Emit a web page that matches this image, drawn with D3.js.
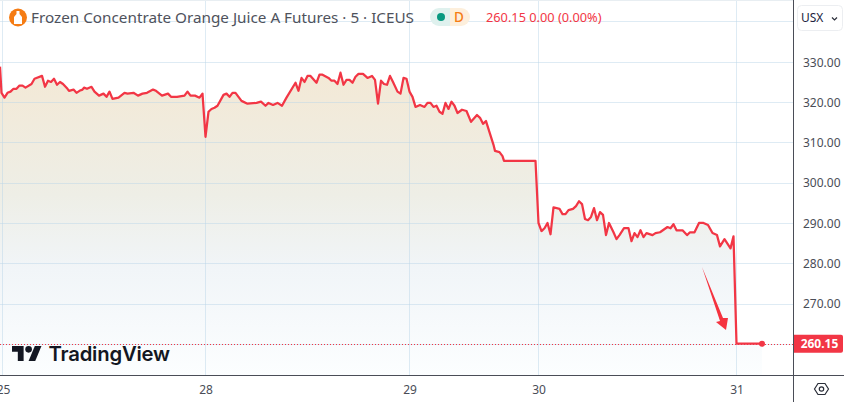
<!DOCTYPE html>
<html>
<head>
<meta charset="utf-8">
<script src="https://cdn.jsdelivr.net/npm/d3@7"></script>
<style>
    html, body { margin: 0; padding: 0; background: #fff; overflow: hidden; }
    svg { display: block; font-family: "Noto Sans", sans-serif; }
</style>
</head>
<body>
<svg id="chart" width="844" height="402"></svg>
<script>
// 5 minute bars, counted from the left edge of the picture
const bars = [
    0,1,3,5,7,9,11,13,15,17,21,23,28,30,32,34,36,38,40,42,45,46,49,51,53,55,56,58,61,63,66,69,71,73,75,79,83,85,89,92,95,98,102,104,108,112,114,118,123,125,127,130,133,135,
    137,139,141,143,145,149,151,153,155,157,161,165,171,174,177,179,182,185,
    188,191,197,199,201,203,205,207,211,213,215,219,221,223,225,227,229,231,233,235,237,239,242,245,248,250,252,254,256,258,260,262,265,267,269,271,
    273,275,277,280,283,285,287,289,291,293,295,297,299,301,303,305,308,311,314,318,320,322,324,329,330,333,335,336,357,
    359,361,363,365,367,369,373,375,377,379,382,384,386,388,390,392,394,396,398,400,402,404,406,409,411,413,416,419,421,423,425,427,429,431,435,437,440,445,447,449,451,455,458,460,463,466,469,472,475,478,480,483,487,489,
    491,508
]
const prices = [
    328.9,322.4,321.2,322.4,322.7,323.4,323.4,324.2,324.2,323.7,324.6,325.9,326.6,323.9,325.4,325.1,325.9,324.4,325.1,324.6,323.4,322.9,323.2,322.4,322.9,323.2,323.7,323.4,323.9,322.7,321.7,322.2,321.4,322.7,320.9,321.2,322.4,322.2,322.4,321.7,322.2,322.4,323.2,322.9,321.7,322.2,321.4,321.4,321.7,322.7,321.7,321.7,321.2,322.2,
    311.5,317.7,318.4,318.7,319.2,321.9,322.2,321.4,322.4,322.4,320.4,319.7,319.9,320.2,319.2,319.9,319.4,319.9,
    319.2,321.2,324.9,322.9,326.1,325.1,326.6,326.6,324.9,326.9,326.9,326.1,325.4,325.4,324.6,327.4,324.4,325.6,325.6,324.9,326.4,327.1,327.1,326.1,326.6,325.6,319.7,325.4,324.6,324.4,326.6,325.1,322.7,322.2,326.1,325.9,
    322.7,321.4,318.9,319.4,318.9,319.9,319.9,318.9,319.2,317.7,317.2,319.9,318.4,320.2,319.2,317.4,318.2,317.9,315.2,316.9,316.2,314.7,315.4,309.5,308.0,307.7,306.7,305.5,305.5,
    290.1,288.1,288.8,290.1,287.3,294.0,293.6,292.3,292.3,293.3,293.6,294.3,295.5,294.8,291.1,290.8,291.6,293.8,290.8,292.8,292.1,287.1,290.1,287.8,286.1,287.1,288.8,288.8,285.6,287.6,286.6,288.3,286.6,287.6,287.1,287.6,287.8,289.1,288.8,289.8,288.3,288.3,287.1,287.8,287.8,290.1,290.1,289.6,287.6,287.1,284.3,286.1,283.8,286.8,
    260.15,260.15
]
const priceTicks = [340, 330, 320, 310, 300, 290, 280, 270, 260]
const priceLabels = [330, 320, 310, 300, 290, 280, 270]
const dayBars = [2, 137, 273, 359, 491]
const dayLabels = ["25", "28", "29", "30", "31"]
const lastPrice = 260.15

const plotW = 793, plotH = 375
const red = "#f23645", axisInk = "#4a4d57", gridInk = "rgba(186,214,232,0.48)"

const x = d3.scaleLinear().domain([0, 508]).range([0, 762])
const y = d3.scaleLinear().domain([330, 270]).range([62.2, 304])

const svg = d3.select("#chart")

const defs = svg.append("defs")
const grad = defs.append("linearGradient")
    .attr("id", "areaFill")
    .attr("gradientUnits", "userSpaceOnUse")
    .attr("x1", 0).attr("x2", 0).attr("y1", 74).attr("y2", plotH)
grad.append("stop").attr("offset", 0).attr("stop-color", "#f3e9d6")
grad.append("stop").attr("offset", 0.4).attr("stop-color", "#eeeee6")
grad.append("stop").attr("offset", 0.65).attr("stop-color", "#f1f5f8")
grad.append("stop").attr("offset", 1).attr("stop-color", "#fcfeff")
defs.append("clipPath").attr("id", "plotClip")
    .append("rect").attr("width", plotW).attr("height", plotH)

// area first so the grid shows through it
const series = d3.zip(bars, prices)
const plot = svg.append("g").attr("clip-path", "url(#plotClip)")
plot.append("path")
    .datum(series)
    .attr("fill", "url(#areaFill)")
    .attr("d", d3.area().x(d => x(d[0])).y0(plotH).y1(d => y(d[1])))

// grid
const grid = plot.append("g").attr("stroke", gridInk).attr("stroke-width", 1)
grid.selectAll("line.h").data(priceTicks).join("line").attr("class", "h")
    .attr("x1", 0).attr("x2", plotW)
    .attr("y1", d => Math.floor(y(d)) + 0.5).attr("y2", d => Math.floor(y(d)) + 0.5)
grid.selectAll("line.v").data(dayBars).join("line").attr("class", "v")
    .attr("x1", d => Math.round(x(d)) - 0.5).attr("x2", d => Math.round(x(d)) - 0.5)
    .attr("y1", 0).attr("y2", plotH)
svg.append("line").attr("x1", 0).attr("x2", plotW).attr("y1", 0.5).attr("y2", 0.5)
    .attr("stroke", "#e8eef2")

// price line, dotted right across the plot
plot.append("line")
    .attr("x1", 0).attr("x2", plotW)
    .attr("y1", Math.round(y(lastPrice)) + 0.5).attr("y2", Math.round(y(lastPrice)) + 0.5)
    .attr("stroke", red).attr("stroke-dasharray", "1 2")
    .attr("shape-rendering", "crispEdges")

plot.append("path")
    .datum(series)
    .attr("fill", "none")
    .attr("stroke", red)
    .attr("stroke-width", 2.25)
    .attr("stroke-linejoin", "round")
    .attr("d", d3.line().x(d => x(d[0])).y(d => y(d[1])))

plot.append("circle")
    .attr("cx", x(bars[bars.length - 1])).attr("cy", y(lastPrice))
    .attr("r", 3).attr("fill", red)

// hand drawn arrow
svg.append("path")
    .attr("d", "M702,267 L723,318 L728,318 L726,330 L716,322 L720,321 Z")
    .attr("fill", "#f5333f")

// axes
const yAxis = d3.axisRight(y).tickValues(priceLabels).tickSize(0).tickPadding(10)
    .tickFormat(d3.format(".2f"))
const yG = svg.append("g").attr("transform", `translate(${plotW},0)`).call(yAxis)
yG.select(".domain").remove()
yG.selectAll("text").attr("fill", axisInk).attr("font-size", 12).attr("font-family", "'Noto Sans', sans-serif")

const xAxis = d3.axisBottom(x).tickValues(dayBars).tickSize(0).tickPadding(10)
    .tickFormat((d, i) => dayLabels[i])
const xG = svg.append("g").attr("transform", `translate(0,${plotH})`).call(xAxis)
xG.select(".domain").remove()
xG.selectAll("text").attr("fill", axisInk).attr("font-size", 12).attr("font-family", "'Noto Sans', sans-serif")

svg.append("line").attr("x1", plotW + 0.5).attr("x2", plotW + 0.5).attr("y1", 0).attr("y2", 402)
    .attr("stroke", axisInk)
svg.append("line").attr("x1", 0).attr("x2", 844).attr("y1", plotH + 0.5).attr("y2", plotH + 0.5)
    .attr("stroke", axisInk)

// last price tag
const tagY = y(lastPrice)
svg.append("path")
    .attr("d", `M${plotW + 1},${tagY - 9} H841 a2,2 0 0 1 2,2 V${tagY + 7} a2,2 0 0 1 -2,2 H${plotW + 1} Z`)
    .attr("fill", red)
svg.append("text")
    .attr("x", 819.5).attr("y", tagY + 4.5).attr("text-anchor", "middle")
    .attr("fill", "#fff").attr("font-size", 12).attr("font-weight", 700)
    .text(d3.format(".2f")(lastPrice))

// USX button
svg.append("rect").attr("x", 797.5).attr("y", 5.5).attr("width", 45).attr("height", 25).attr("rx", 4)
    .attr("fill", "#fff").attr("stroke", "#eceef1")
svg.append("text").attr("x", 801).attr("y", 22).attr("fill", "#1c2340").attr("font-size", 12).text("USX")
svg.append("path").attr("d", "M832,17.5 l2.5,2.5 l2.5,-2.5").attr("fill", "none").attr("stroke", "#2a2e39").attr("stroke-width", 1.2)

// settings hexagon
svg.append("path").attr("d", "M814.5,389 L818,383.5 H825 L828.5,389 L825,394.5 H818 Z")
    .attr("fill", "none").attr("stroke", "#2a2e39").attr("stroke-width", 1.2)
svg.append("circle").attr("cx", 821.5).attr("cy", 389).attr("r", 2.2)
    .attr("fill", "none").attr("stroke", "#2a2e39").attr("stroke-width", 1.2)

// header
const head = svg.append("g")
head.append("circle").attr("cx", 18).attr("cy", 17.5).attr("r", 9).attr("fill", "#f57c14")
head.append("path").attr("d", "M16.5,11 H19.5 V14 L22,17 V24 H14 V17 L16.5,14 Z").attr("fill", "#fff")
head.append("text").attr("x", 31).attr("y", 23).attr("fill", "#4f525c").attr("font-size", 15)
    .attr("textLength", 383).attr("lengthAdjust", "spacingAndGlyphs")
    .text("Frozen Concentrate Orange Juice A Futures · 5 · ICEUS")

head.append("path").attr("d", "M450,8 H439 a9,9 0 0 0 0,18 H450 Z").attr("fill", "#dff1ee")
head.append("path").attr("d", "M450,8 H461 a9,9 0 0 1 0,18 H450 Z").attr("fill", "#fdefdc")
head.append("circle").attr("cx", 441).attr("cy", 17).attr("r", 4).attr("fill", "#089981")
head.append("text").attr("x", 459).attr("y", 22).attr("text-anchor", "middle").attr("fill", "#f57c14")
    .attr("font-size", 13.5).attr("font-weight", 500).text("D")
head.append("text").attr("x", 486).attr("y", 22).attr("fill", red).attr("font-size", 12.5)
    .attr("textLength", 115.5).attr("lengthAdjust", "spacingAndGlyphs")
    .text("260.15 0.00 (0.00%)")

// watermark
const logo = svg.append("g").attr("transform", "translate(12,342.7) scale(0.83)").attr("fill", "#131722")
logo.append("path").attr("d", "M14 22H7V11H0V4h14v18z")
logo.append("circle").attr("cx", 20).attr("cy", 8).attr("r", 4)
logo.append("path").attr("d", "M28 22h-8l7.5-18h8L28 22z")
svg.append("text").attr("x", 48.5).attr("y", 361).attr("font-family", "Inter, sans-serif")
    .attr("font-size", 20.3).attr("font-weight", 600).attr("letter-spacing", -0.2)
    .attr("fill", "#131722").text("TradingView")
</script>
</body>
</html>
